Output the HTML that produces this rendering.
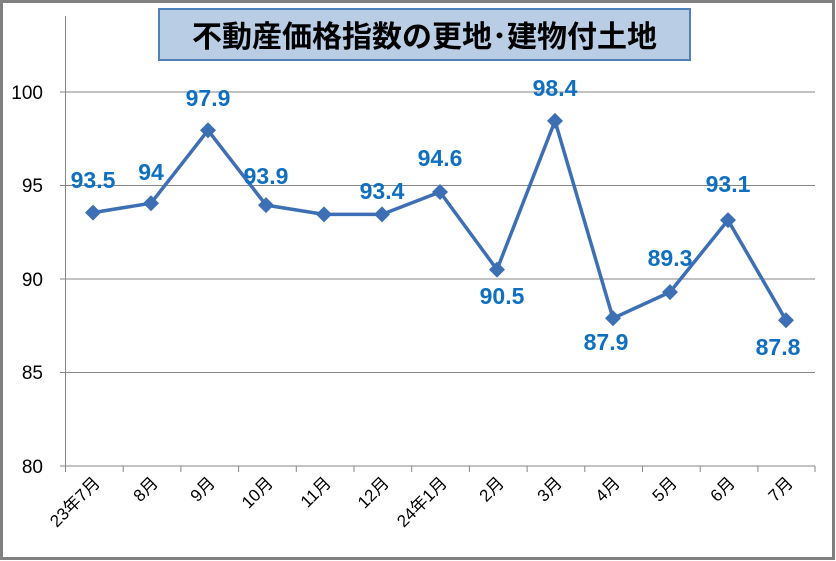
<!DOCTYPE html>
<html><head><meta charset="utf-8"><style>
html,body{margin:0;padding:0;background:#fff;}
svg{display:block;}
</style></head><body>
<svg width="836" height="561" viewBox="0 0 836 561" xmlns="http://www.w3.org/2000/svg">
<rect x="1.5" y="1.5" width="832" height="557" fill="#fff" stroke="#808080" stroke-width="3"/>
<g stroke="#868686" stroke-width="1">
<line x1="60" y1="92" x2="815" y2="92"/>
<line x1="60" y1="185.5" x2="815" y2="185.5"/>
<line x1="60" y1="279" x2="815" y2="279"/>
<line x1="60" y1="372.5" x2="815" y2="372.5"/>
<line x1="60" y1="466" x2="815" y2="466"/>
<line x1="65.5" y1="16" x2="65.5" y2="466"/>
</g>
<g stroke="#868686" stroke-width="1">
<line x1="65.5" y1="466" x2="65.5" y2="472"/><line x1="123.2" y1="466" x2="123.2" y2="472"/><line x1="180.9" y1="466" x2="180.9" y2="472"/><line x1="238.6" y1="466" x2="238.6" y2="472"/><line x1="296.3" y1="466" x2="296.3" y2="472"/><line x1="354" y1="466" x2="354" y2="472"/><line x1="411.7" y1="466" x2="411.7" y2="472"/><line x1="469.4" y1="466" x2="469.4" y2="472"/><line x1="527.1" y1="466" x2="527.1" y2="472"/><line x1="584.8" y1="466" x2="584.8" y2="472"/><line x1="642.5" y1="466" x2="642.5" y2="472"/><line x1="700.2" y1="466" x2="700.2" y2="472"/><line x1="757.9" y1="466" x2="757.9" y2="472"/><line x1="815" y1="466" x2="815" y2="472"/>
</g>
<g font-family="Liberation Sans, sans-serif" font-size="19" fill="#000" text-anchor="end">
<text x="43" y="99">100</text><text x="43" y="192">95</text><text x="43" y="286">90</text><text x="43" y="379">85</text><text x="43" y="473">80</text>
</g>
<g font-family="Liberation Sans, 'Noto Sans CJK JP', sans-serif" font-size="17" fill="#000" text-anchor="end">
<text transform="translate(101,484) rotate(-45)">23年7月</text>
<text transform="translate(159,484) rotate(-45)">8月</text>
<text transform="translate(216,484) rotate(-45)">9月</text>
<text transform="translate(274,484) rotate(-45)">10月</text>
<text transform="translate(332,484) rotate(-45)">11月</text>
<text transform="translate(390,484) rotate(-45)">12月</text>
<text transform="translate(448,484) rotate(-45)">24年1月</text>
<text transform="translate(505,484) rotate(-45)">2月</text>
<text transform="translate(563,484) rotate(-45)">3月</text>
<text transform="translate(621,484) rotate(-45)">4月</text>
<text transform="translate(678,484) rotate(-45)">5月</text>
<text transform="translate(736,484) rotate(-45)">6月</text>
<text transform="translate(794,484) rotate(-45)">7月</text>
</g>
<polyline fill="none" stroke="#3d6fb4" stroke-width="3.5" stroke-linejoin="round" points="93,212.6 151,203.2 208,130.3 266,205.1 324,214.4 382,214.4 440,192 497,269.6 555,120.9 613,318.3 670,292.1 728,220.1 786,320.2"/>
<g fill="#3d6fb4">
<path d="M93,204.6l8,8l-8,8l-8,-8z"/><path d="M151,195.2l8,8l-8,8l-8,-8z"/><path d="M208,122.3l8,8l-8,8l-8,-8z"/><path d="M266,197.1l8,8l-8,8l-8,-8z"/><path d="M324,206.4l8,8l-8,8l-8,-8z"/><path d="M382,206.4l8,8l-8,8l-8,-8z"/><path d="M440,184l8,8l-8,8l-8,-8z"/><path d="M497,261.6l8,8l-8,8l-8,-8z"/><path d="M555,112.9l8,8l-8,8l-8,-8z"/><path d="M613,310.3l8,8l-8,8l-8,-8z"/><path d="M670,284.1l8,8l-8,8l-8,-8z"/><path d="M728,212.1l8,8l-8,8l-8,-8z"/><path d="M786,312.2l8,8l-8,8l-8,-8z"/>
</g>
<g font-family="Liberation Sans, sans-serif" font-size="23" font-weight="bold" fill="#0f6fc0" text-anchor="middle">
<text x="93" y="188">93.5</text><text x="151" y="180">94</text><text x="208" y="106">97.9</text><text x="266" y="184">93.9</text><text x="382" y="199">93.4</text><text x="440" y="166">94.6</text><text x="502" y="304">90.5</text><text x="555" y="96">98.4</text><text x="606" y="350">87.9</text><text x="670" y="266">89.3</text><text x="728" y="192">93.1</text><text x="778" y="355">87.8</text>
</g>
<rect x="159" y="9" width="531" height="51" fill="#b9cde5" stroke="#4f81bd" stroke-width="2"/>
<text x="424.5" y="47" text-anchor="middle" font-family="Liberation Sans, 'Noto Sans CJK JP', sans-serif" font-size="30" font-weight="bold" fill="#000">不動産価格指数の更地･建物付土地</text>
</svg>
</body></html>
